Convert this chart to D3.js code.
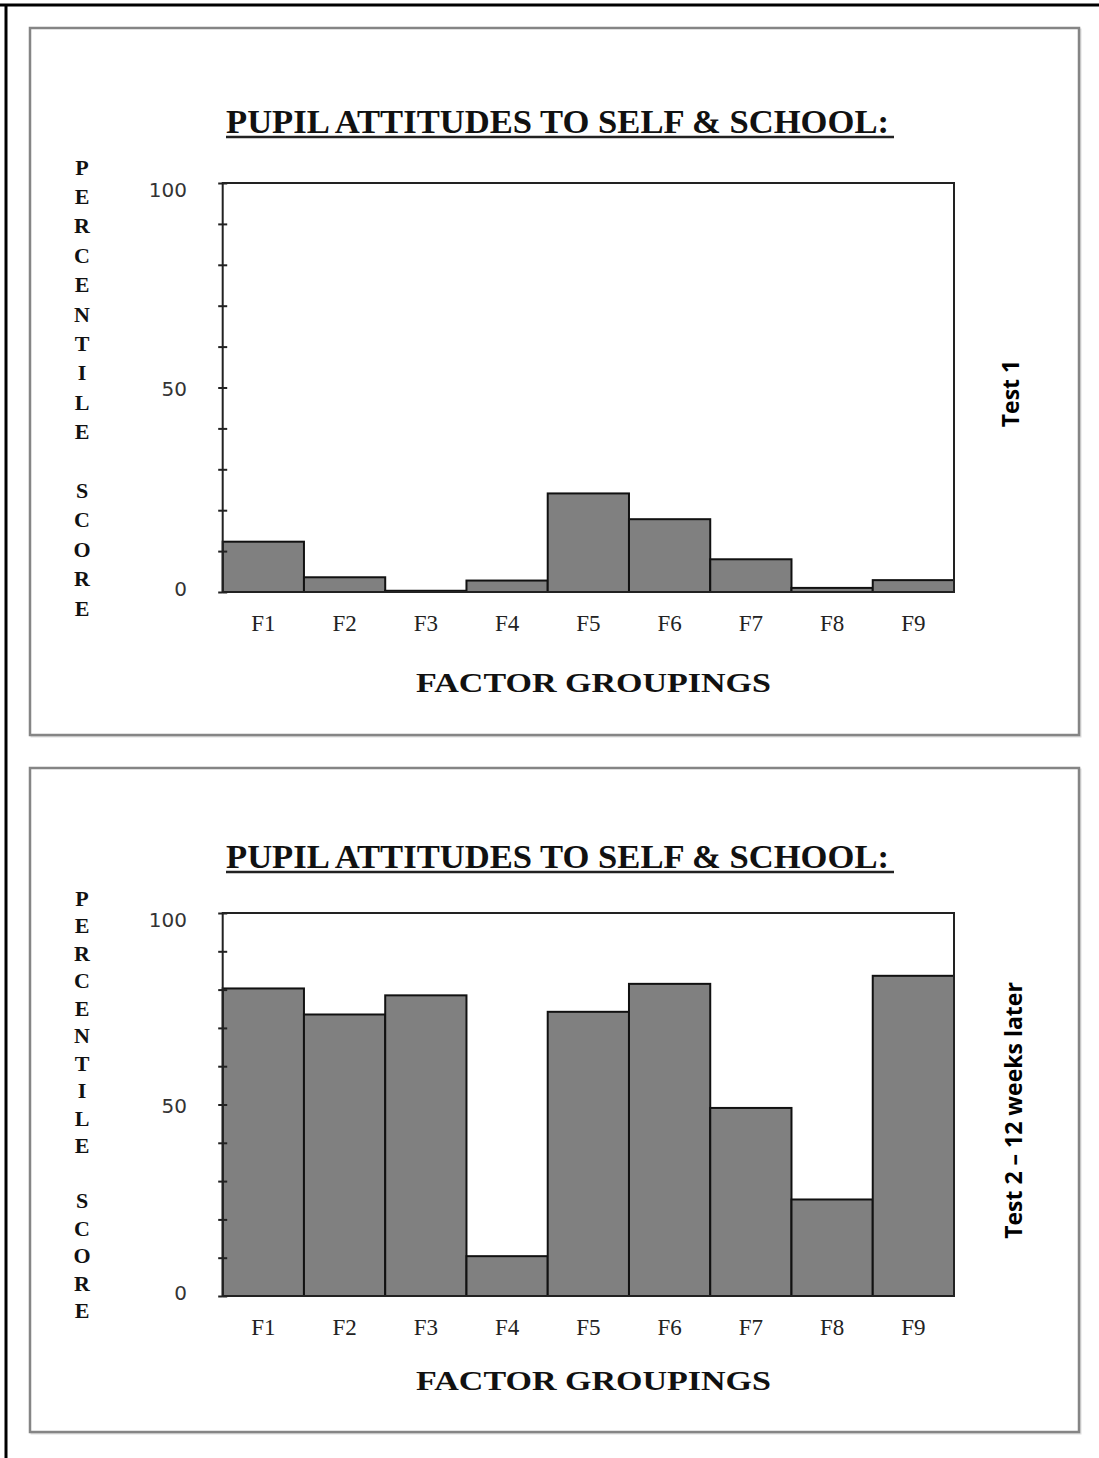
<!DOCTYPE html>
<html>
<head>
<meta charset="utf-8">
<script src="https://cdn.jsdelivr.net/npm/d3@7"></script>
<style>
  html, body { margin: 0; padding: 0; background: #fff; }
  svg { display: block; }
</style>
</head>
<body>
<svg id="chart" width="1099" height="1458"></svg>
<script>
// ---- data ----
const categories = ["F1", "F2", "F3", "F4", "F5", "F6", "F7", "F8", "F9"];
const test1Values = [12.3, 3.6, 0.3, 2.8, 24.1, 17.8, 8.0, 1.0, 2.9];
const test2Values = [80.3, 73.5, 78.5, 10.4, 74.2, 81.5, 49.1, 25.2, 83.6];
const yTickLabels = [0, 50, 100];
const chartTitle = "PUPIL ATTITUDES TO SELF & SCHOOL:";
const xAxisTitle = "FACTOR GROUPINGS";
const yAxisTitle = "PERCENTILE SCORE";
const panelLabels = ["Test 1", "Test 2 \u2013 12 weeks later"];

const svg = d3.select("#chart");

// outer page frame (top and left)
svg.append("line").attr("x1", 0).attr("x2", 1099).attr("y1", 5).attr("y2", 5)
  .attr("stroke", "#000").attr("stroke-width", 3);
svg.append("line").attr("x1", 6).attr("x2", 6).attr("y1", 4).attr("y2", 1458)
  .attr("stroke", "#000").attr("stroke-width", 3);

const panels = [
  { values: test1Values, label: panelLabels[0],
    frame: [30, 28, 1079, 735], plot: [222.7, 183, 954, 592],
    letterTop: 167, letterStep: 29.4, labelX: 1010, titleY: 133, xTitleY: 692 },
  { values: test2Values, label: panelLabels[1],
    frame: [30, 768, 1079, 1432], plot: [222.7, 913, 954, 1296],
    letterTop: 898, letterStep: 27.5, labelX: 1013, titleY: 868, xTitleY: 1390 }
];

panels.forEach(p => {
  const g = svg.append("g");
  const [fx0, fy0, fx1, fy1] = p.frame;
  const [px0, py0, px1, py1] = p.plot;

  // panel frame with soft shadow
  g.append("rect").attr("x", fx0 + 1.5).attr("y", fy0 + 1.5)
    .attr("width", fx1 - fx0).attr("height", fy1 - fy0)
    .attr("fill", "none").attr("stroke", "#ddd").attr("stroke-width", 2);
  g.append("rect").attr("x", fx0).attr("y", fy0)
    .attr("width", fx1 - fx0).attr("height", fy1 - fy0)
    .attr("fill", "#fff").attr("stroke", "#858585").attr("stroke-width", 2.5);

  const x = d3.scaleBand().domain(categories).range([px0, px1]).padding(0);
  const y = d3.scaleLinear().domain([0, 100]).range([py1, py0]);

  // bars
  g.append("g").selectAll("rect").data(p.values).join("rect")
    .attr("x", (d, i) => x(categories[i]))
    .attr("y", d => y(d))
    .attr("width", x.bandwidth())
    .attr("height", d => y(0) - y(d))
    .attr("fill", "#808080")
    .attr("stroke", "#111")
    .attr("stroke-width", 2);

  // plot frame
  g.append("rect").attr("x", px0).attr("y", py0)
    .attr("width", px1 - px0).attr("height", py1 - py0)
    .attr("fill", "none").attr("stroke", "#222").attr("stroke-width", 2);

  // cross ticks on the y axis
  const ticksL = d3.axisLeft(y).ticks(10).tickSize(4.5).tickFormat("");
  const ticksR = d3.axisRight(y).ticks(10).tickSize(4.5).tickFormat("");
  [ticksL, ticksR].forEach(ax => {
    const a = g.append("g").attr("transform", `translate(${px0},0)`).call(ax);
    a.select(".domain").remove();
    a.selectAll(".tick line").attr("stroke", "#222").attr("stroke-width", 2);
  });

  // y tick labels
  g.append("g").selectAll("text").data(yTickLabels).join("text")
    .attr("x", 187)
    .attr("y", d => y(d) + (d === 100 ? 7 : d === 0 ? -3 : 1))
    .attr("text-anchor", "end")
    .attr("dominant-baseline", "central")
    .attr("font-family", "'DejaVu Sans', sans-serif")
    .attr("font-size", 20)
    .attr("fill", "#333")
    .text(d => d);

  // x labels
  g.append("g").selectAll("text").data(categories).join("text")
    .attr("x", d => x(d) + x.bandwidth() / 2)
    .attr("y", py1 + 31)
    .attr("text-anchor", "middle")
    .attr("dominant-baseline", "central")
    .attr("font-family", "'Liberation Serif', 'Times New Roman', serif")
    .attr("font-size", 23)
    .attr("fill", "#222")
    .text(d => d);

  // title
  g.append("text")
    .attr("x", 226).attr("y", p.titleY)
    .attr("font-family", "'Liberation Serif', 'Times New Roman', serif")
    .attr("font-weight", "bold")
    .attr("font-size", 34)
    .attr("textLength", 663)
    .attr("lengthAdjust", "spacingAndGlyphs")
    .attr("fill", "#111")
    .text(chartTitle);
  g.append("line").attr("x1", 226).attr("x2", 894)
    .attr("y1", p.titleY + 4).attr("y2", p.titleY + 4)
    .attr("stroke", "#222").attr("stroke-width", 2.5);

  // x axis title
  g.append("text")
    .attr("x", 416).attr("y", p.xTitleY)
    .attr("font-family", "'Liberation Serif', 'Times New Roman', serif")
    .attr("font-weight", "bold")
    .attr("font-size", 28)
    .attr("textLength", 355)
    .attr("lengthAdjust", "spacingAndGlyphs")
    .attr("fill", "#111")
    .text(xAxisTitle);

  // vertical letters
  g.append("g").selectAll("text").data(yAxisTitle.split("")).join("text")
    .attr("x", 82)
    .attr("y", (d, i) => p.letterTop + i * p.letterStep)
    .attr("text-anchor", "middle")
    .attr("dominant-baseline", "central")
    .attr("font-family", "'Liberation Serif', 'Times New Roman', serif")
    .attr("font-weight", "bold")
    .attr("font-size", 22)
    .attr("fill", "#111")
    .text(d => d);

  // panel label (rotated)
  g.append("text")
    .attr("transform", `translate(${p.labelX},${(py0 + py1) / 2 + 6}) rotate(-90)`)
    .attr("text-anchor", "middle")
    .attr("dominant-baseline", "central")
    .attr("font-family", "'Open Sans', 'DejaVu Sans', sans-serif")
    .attr("font-weight", "bold")
    .attr("font-size", 23)
    .attr("fill", "#000")
    .text(p.label);
});
</script>
</body>
</html>
